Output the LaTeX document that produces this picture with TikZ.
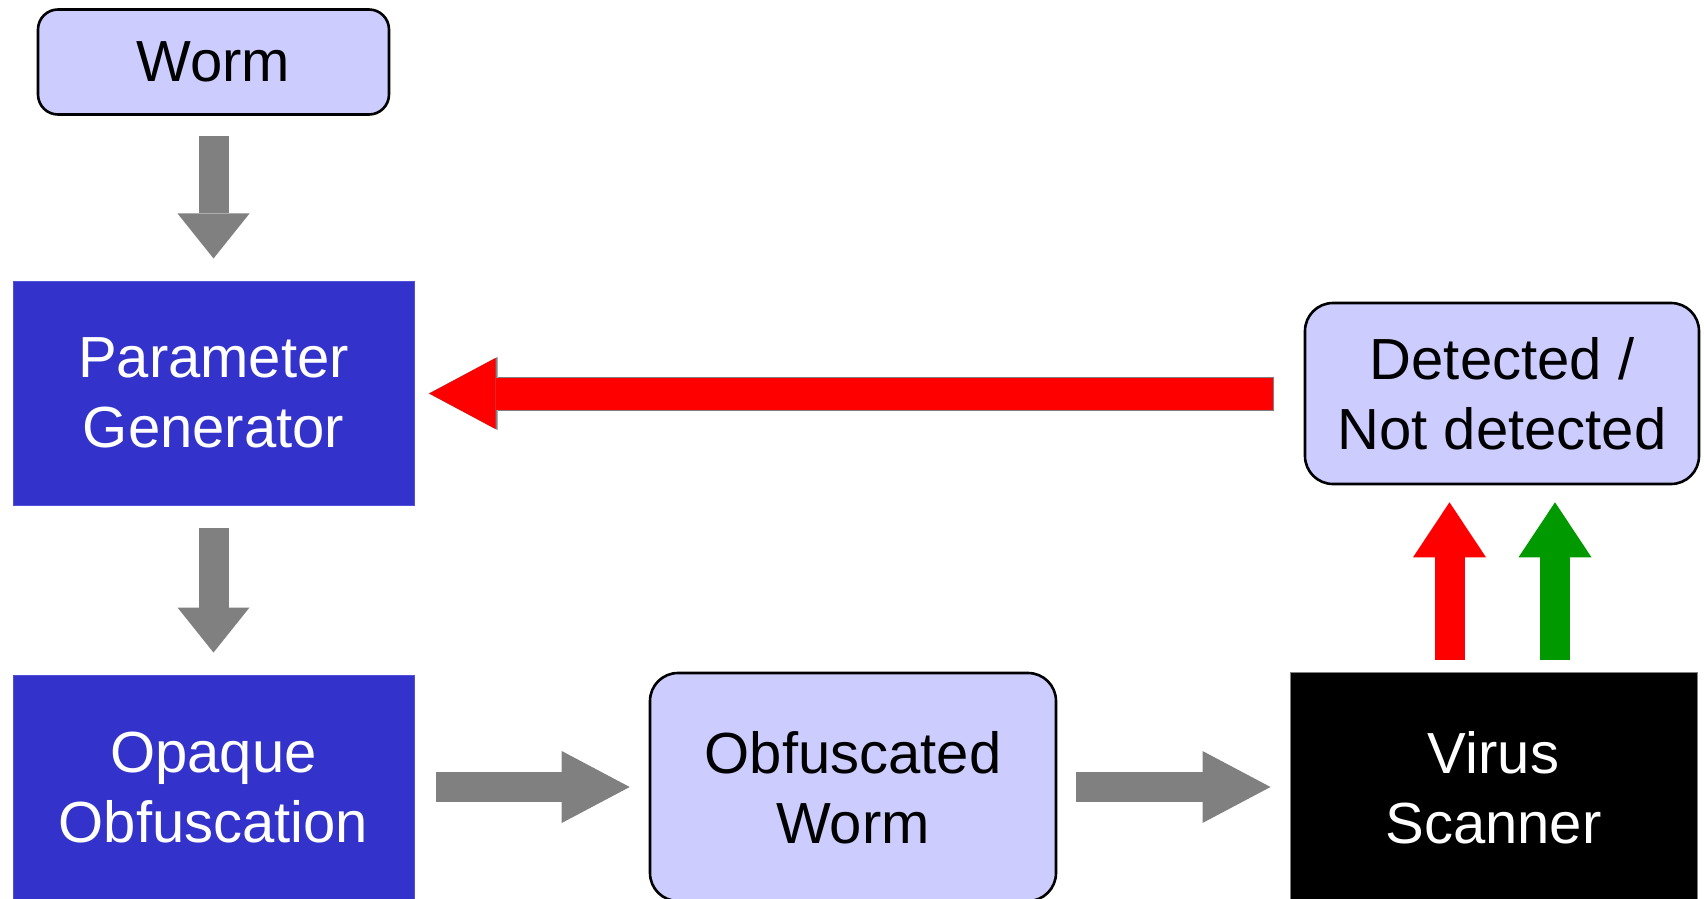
\documentclass[tikz,border=0pt]{standalone}
\usepackage{fontspec}
\setmainfont{Liberation Sans}
\usetikzlibrary{arrows.meta}

\definecolor{lavender}{HTML}{CCCCFF}
\definecolor{royal}{HTML}{3333CC}
\definecolor{royaledge}{HTML}{5050DD}
\definecolor{arrgray}{HTML}{808080}
\definecolor{okgreen}{HTML}{009900}

\tikzset{
  label font/.style={font=\fontsize{29}{35}\selectfont, align=center, inner sep=0pt,
    text depth=-4pt},
  softbox/.style={label font, draw=black, line width=1.3pt, fill=lavender,
    rounded corners=#1, text=black},
  softbox/.default=14pt,
  stagebox/.style={label font, draw=royaledge, line width=0.5pt, fill=royal, text=white},
  scanbox/.style={label font, draw=arrgray, line width=0.5pt, fill=black, text=white},
  flowdown/.style={draw=arrgray, line width=15pt,
    -{Triangle[length=22.5pt, width=36pt, line width=0pt]}},
  flowright/.style={draw=arrgray, line width=15pt,
    -{Triangle[length=34pt, width=36pt, line width=0pt]}},
  verdict/.style={draw=#1, line width=15pt,
    -{Triangle[length=27.5pt, width=36.5pt, line width=0pt]}},
}

\begin{document}
\begin{tikzpicture}[x=0.5pt, y=-0.5pt]
  \useasboundingbox (0,0) rectangle (1704,899);

  % pipeline stages
  \node[softbox=10pt, minimum width=175.5pt, minimum height=52.5pt] (worm) at (213.5,62) {Worm};
  \node[stagebox, minimum width=200.5pt, minimum height=112pt] (pg) at (213.5,393) {Parameter\\Generator};
  \node[stagebox, minimum width=200.5pt, minimum height=112pt] (oo) at (213.5,787) {Opaque\\Obfuscation};
  \node[softbox, minimum width=203pt, minimum height=114pt] (ow) at (853,787) {Obfuscated\\Worm};
  \node[scanbox, minimum width=203.5pt, minimum height=115pt] (vs) at (1493.5,787) {Virus\\Scanner};
  \node[softbox, minimum width=197pt, minimum height=90.5pt] (det) at (1502,393.5) {Detected /\\Not detected};

  % main flow
  \draw[flowdown, shorten <=10pt, shorten >=11pt] (worm.south) -- (pg.north);
  \draw[flowdown, shorten <=11pt, shorten >=11pt] (pg.south) -- (oo.north);
  \draw[flowright, shorten <=10.5pt, shorten >=9.5pt] (oo.east) -- (ow.west);
  \draw[flowright, shorten <=9.5pt, shorten >=9.5pt] (ow.east) -- (vs.west);

  % scanner verdicts
  \draw[verdict=red, shorten <=6pt, shorten >=8.5pt]
    ([xshift=-22pt]vs.north) -- ([xshift=-22pt]vs.north |- det.south);
  \draw[verdict=okgreen, shorten <=6pt, shorten >=8.5pt]
    ([xshift=30.75pt]vs.north) -- ([xshift=30.75pt]vs.north |- det.south);

  % feedback to the parameter generator: grey rim, then red body
  \draw[draw=arrgray, line width=17pt, shorten <=15pt, shorten >=7pt,
    -{Triangle[length=34.5pt, width=36.5pt, line width=0pt]}]
    (det.west) -- (det.west -| pg.east);
  \draw[draw=red, line width=16pt, shorten <=15.5pt, shorten >=7.5pt,
    -{Triangle[length=33pt, width=35.5pt, line width=0pt]}]
    (det.west) -- (det.west -| pg.east);
\end{tikzpicture}
\end{document}
